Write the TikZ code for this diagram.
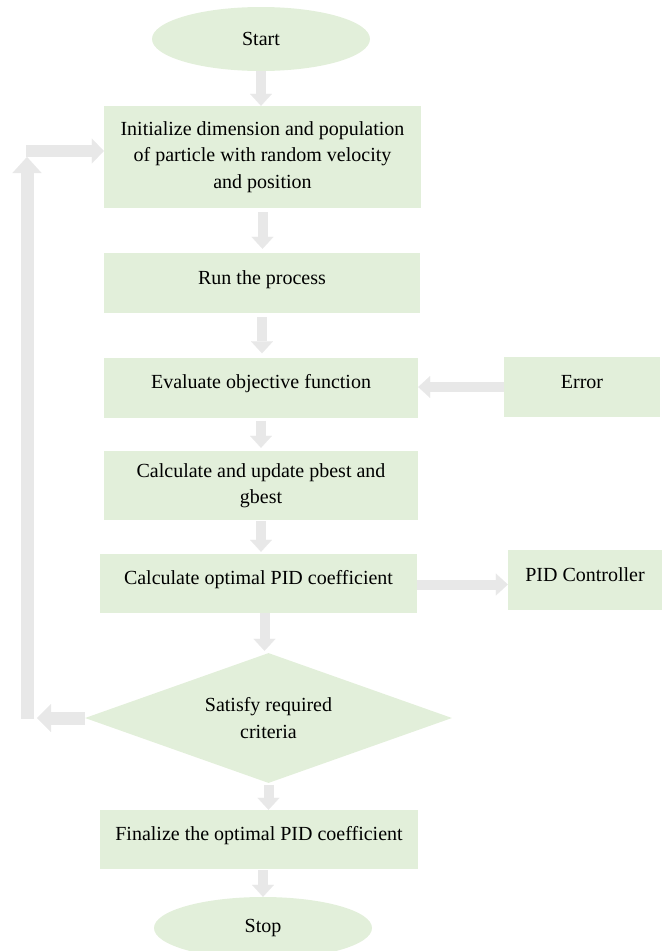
\documentclass[tikz,border=0pt]{standalone}
\usepackage{fontspec}
\setmainfont{Liberation Serif}
\usetikzlibrary{shapes.geometric,arrows.meta}
\definecolor{boxgreen}{HTML}{E2EFDA}
\definecolor{arrowgray}{HTML}{E8E8E8}
\begin{document}
\begin{tikzpicture}[x=1pt,y=-1pt,
  txt/.style={font=\fontsize{20}{26.5}\selectfont, text=black},
  box/.style={txt, rectangle, fill=boxgreen, inner sep=0pt, align=center},
  one/.style={text height=14pt, text depth=12pt},
  term/.style={txt, ellipse, fill=boxgreen, inner sep=0pt, minimum width=218pt, minimum height=64pt},
  blk/.style={draw=arrowgray, line width=10pt, -{Triangle[width=22pt,length=12pt,line width=0.1pt]}},
  blkw/.style={draw=arrowgray, line width=13pt, -{Triangle[width=28pt,length=14pt,line width=0.1pt]}}
]
\useasboundingbox (0,0) rectangle (664,951);

\node[term] (start) at (261,39) {Start};
\node[box, minimum width=317pt, minimum height=102pt] (init) at (262.5,157)
  {Initialize dimension and population\\of particle with random velocity\\and position};
\node[box, one, minimum width=316pt, minimum height=60pt] (run) at (262,283) {Run the process};
\node[box, one, minimum width=314pt, minimum height=60pt] (eval) at (261,387.5) {Evaluate objective function};
\node[box, one, minimum width=156pt, minimum height=60pt] (error) at (582,387) {Error};
\node[box, minimum width=314pt, minimum height=69pt] (calc) at (261,485.5) {Calculate and update pbest and\\gbest};
\node[box, one, minimum width=317pt, minimum height=59pt] (pid) at (258.5,583.5) {Calculate optimal PID coefficient};
\node[box, one, minimum width=154pt, minimum height=60pt] (pidc) at (585,580) {PID Controller};
\node[txt, diamond, fill=boxgreen, inner sep=0pt, aspect=2.8, align=center,
      minimum width=367pt, minimum height=130pt] (dec) at (268.5,718) {Satisfy required\\criteria};
\node[box, one, minimum width=318pt, minimum height=59pt] (fin) at (259,839.5) {Finalize the optimal PID coefficient};
\node[term, minimum height=62pt] (stop) at (263,928) {Stop};

\coordinate (lA) at (37,718);
\coordinate (lB) at (27,719);
\coordinate (lC) at (27,157);
\coordinate (lD) at (26,151);

\draw[blk] (start.south) -- (start.south |- init.north);
\draw[blk, shorten <=4pt, shorten >=4pt] (init.south) -- (init.south |- run.north);
\draw[blk, shorten <=4pt, shorten >=4pt] (run.south) -- (run.south |- eval.north);
\draw[blk, shorten <=3pt, shorten >=3pt] (eval.south) -- (eval.south |- calc.north);
\draw[blk, shorten <=1pt, shorten >=2pt] (calc.south) -- (calc.south |- pid.north);
\draw[blk, shorten >=2pt] ([xshift=6pt]pid.south) -- ([xshift=6pt]pid.south |- dec.north);
\draw[blk, shorten <=2pt] (dec.south) -- (dec.south |- fin.north);
\draw[blk, shorten <=1pt] ([xshift=4pt]fin.south) -- ([xshift=4pt]fin.south |- stop.north);
\draw[blk] (error.west) -- (error.west -| eval.east);
\draw[blk] ([yshift=-1pt]pid.east) -- ([yshift=-1pt]pid.east -| pidc.west);
\draw[blkw] (dec.west) -- (lA);
\draw[blkw, -{Triangle[width=29pt,length=16pt,line width=0.1pt]}] (lB) -- (lC);
\draw[blkw, line width=12pt, -{Triangle[width=25pt,length=12pt,line width=0.1pt]}] (lD) -- (lD -| init.west);
\end{tikzpicture}
\end{document}
